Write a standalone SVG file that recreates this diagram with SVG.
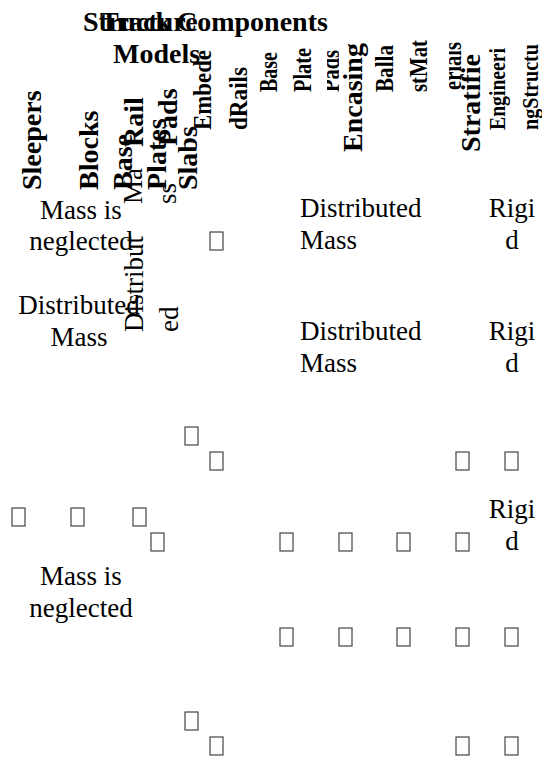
<svg xmlns="http://www.w3.org/2000/svg" width="542" height="760" viewBox="0 0 542 760">
<style>
text{font-family:"Liberation Serif","Times New Roman",serif;fill:#000}
.h{font-weight:bold;font-size:28px}
.hs{font-weight:bold;font-size:26px}
.b{font-size:27px}
.c{text-anchor:middle}
.tofu{fill:none;stroke:#444;stroke-width:1.2}
</style>
<defs>
<clipPath id="clipPads" clipPathUnits="userSpaceOnUse"><rect x="327" y="0" width="12" height="200"/></clipPath>
<clipPath id="clipErials" clipPathUnits="userSpaceOnUse"><rect x="449" y="0" width="13" height="200"/></clipPath>
</defs>
<rect width="542" height="760" fill="#fff"/>
<g id="title">
<text class="h" x="83" y="31">Structure</text>
<text class="h" x="100" y="31">Track</text>
<text class="h" x="177" y="31">Components</text>
<text class="h" x="113" y="63">Models</text>
</g>
<g id="col-headers">
<text class="h" transform="translate(41,190) rotate(-90)">Sleepers</text>
<text class="h" transform="translate(98,190) rotate(-90)">Blocks</text>
<text class="h" transform="translate(132,190) rotate(-90)">Base</text>
<text class="h" transform="translate(166,190) rotate(-90)">Plates</text>
<text class="h" transform="translate(143,147) rotate(-90)">Rail</text>
<text class="h" transform="translate(177,146) rotate(-90)">Pads</text>
<text class="h" transform="translate(197,190) rotate(-90)">Slabs</text>
<text class="hs" textLength="80" lengthAdjust="spacingAndGlyphs" transform="translate(211,130) rotate(-90)">Embede</text>
<text class="hs" textLength="63" lengthAdjust="spacingAndGlyphs" transform="translate(247,130) rotate(-90)">dRails</text>
<text class="hs" textLength="40" lengthAdjust="spacingAndGlyphs" transform="translate(277,92) rotate(-90)">Base</text>
<text class="hs" textLength="44" lengthAdjust="spacingAndGlyphs" transform="translate(311,92) rotate(-90)">Plate</text>
<g clip-path="url(#clipPads)">
<text class="hs" textLength="42" lengthAdjust="spacingAndGlyphs" transform="translate(339,92) rotate(-90)">Pads</text>
</g>
<text class="h" transform="translate(362,152) rotate(-90)">Encasing</text>
<text class="hs" textLength="47" lengthAdjust="spacingAndGlyphs" transform="translate(393,92) rotate(-90)">Balla</text>
<text class="hs" textLength="52" lengthAdjust="spacingAndGlyphs" transform="translate(427,92) rotate(-90)">stMat</text>
<g clip-path="url(#clipErials)">
<text class="hs" textLength="48" lengthAdjust="spacingAndGlyphs" transform="translate(461,90) rotate(-90)">erials</text>
</g>
<text class="h" transform="translate(480,152) rotate(-90)">Stratifie</text>
<text class="hs" style="font-size:24px" textLength="82" lengthAdjust="spacingAndGlyphs" transform="translate(505,130) rotate(-90)">Engineeri</text>
<text class="hs" style="font-size:24px" textLength="86" lengthAdjust="spacingAndGlyphs" transform="translate(538,130) rotate(-90)">ngStructu</text>
</g>
<g id="cells">
<text class="b c" x="81" y="219">Mass is</text>
<text class="b c" x="81" y="250">neglected</text>
<text class="b" transform="translate(142,204) rotate(-90)">Ma</text>
<text class="b" transform="translate(176,204) rotate(-90)">ss</text>
<text class="b" x="300" y="217">Distributed</text>
<text class="b" x="300" y="249">Mass</text>
<text class="b c" x="512" y="217">Rigi</text>
<text class="b c" x="512" y="249">d</text>
<text class="b c" x="79" y="314">Distributed</text>
<text class="b c" x="79" y="346">Mass</text>
<text class="b" transform="translate(143,332) rotate(-90)">Distribut</text>
<text class="b" transform="translate(178,332) rotate(-90)">ed</text>
<text class="b" x="300" y="340">Distributed</text>
<text class="b" x="300" y="372">Mass</text>
<text class="b c" x="512" y="340">Rigi</text>
<text class="b c" x="512" y="372">d</text>
<text class="b c" x="512" y="518">Rigi</text>
<text class="b c" x="512" y="550">d</text>
<text class="b c" x="81" y="585">Mass is</text>
<text class="b c" x="81" y="617">neglected</text>
</g>
<g id="marks">
<rect class="tofu" x="210" y="232" width="13" height="18"/>
<rect class="tofu" x="185" y="427" width="13" height="18"/>
<rect class="tofu" x="210" y="452" width="13" height="18"/>
<rect class="tofu" x="456" y="452" width="13" height="18"/>
<rect class="tofu" x="505" y="452" width="13" height="18"/>
<rect class="tofu" x="12" y="508" width="13" height="18"/>
<rect class="tofu" x="71" y="508" width="13" height="18"/>
<rect class="tofu" x="133" y="508" width="13" height="18"/>
<rect class="tofu" x="151" y="533" width="13" height="18"/>
<rect class="tofu" x="280" y="533" width="13" height="18"/>
<rect class="tofu" x="339" y="533" width="13" height="18"/>
<rect class="tofu" x="397" y="533" width="13" height="18"/>
<rect class="tofu" x="456" y="533" width="13" height="18"/>
<rect class="tofu" x="280" y="628" width="13" height="18"/>
<rect class="tofu" x="339" y="628" width="13" height="18"/>
<rect class="tofu" x="397" y="628" width="13" height="18"/>
<rect class="tofu" x="456" y="628" width="13" height="18"/>
<rect class="tofu" x="505" y="628" width="13" height="18"/>
<rect class="tofu" x="185" y="712" width="13" height="18"/>
<rect class="tofu" x="210" y="737" width="13" height="18"/>
<rect class="tofu" x="456" y="737" width="13" height="18"/>
<rect class="tofu" x="505" y="737" width="13" height="18"/>
</g>
</svg>
